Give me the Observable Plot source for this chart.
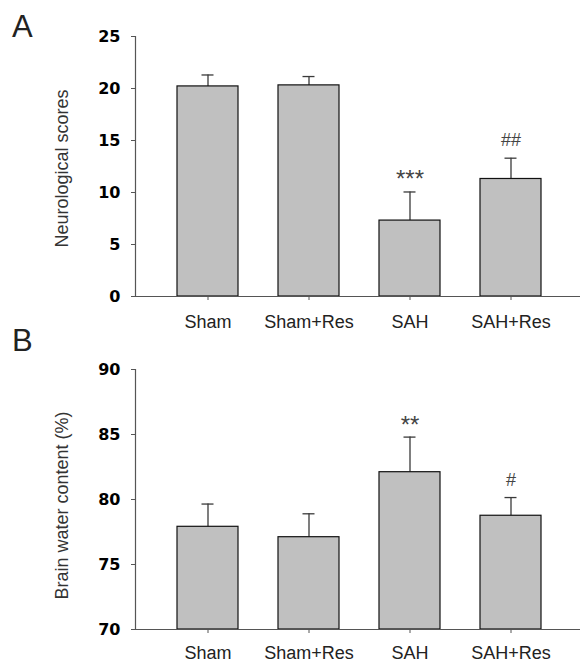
<!DOCTYPE html>
<html><head><meta charset="utf-8">
<script src="https://cdn.jsdelivr.net/npm/d3@7"></script>
<script src="https://cdn.jsdelivr.net/npm/@observablehq/plot@0.6"></script>
<style>
body{margin:0;background:#fff;}
#wrap{position:relative;width:580px;height:662px;font-family:"Liberation Sans",Arial,sans-serif;overflow:hidden;}
.letter{position:absolute;left:12px;font-size:31px;line-height:31px;color:#222;}
.panel{position:absolute;left:0;}
</style></head><body>
<div id="wrap">
<div class="panel" id="pa" style="top:0"></div>
<div class="panel" id="pb" style="top:335px"></div>
<div class="letter" style="top:11px">A</div>
<div class="letter" style="top:325px">B</div>
</div>
<script>
const groups = ["Sham", "Sham+Res", "SAH", "SAH+Res"];
const scoreMean = [20.2, 20.3, 7.3, 11.3];
const scoreErr = [1.1, 0.85, 2.75, 2.0];
const scoreMarks = ["", "", "***", "##"];
const scoreTicks = [0, 5, 10, 15, 20, 25];
const waterMean = [77.9, 77.1, 82.1, 78.75];
const waterErr = [1.75, 1.8, 2.7, 1.4];
const waterMarks = ["", "", "**", "#"];
const waterTicks = [70, 75, 80, 85, 90];

function panel({means, errs, marks, domain, ticks, label, height, mt, mb, labelDy, xPad}) {
  const rows = groups.map((g, i) => ({group: g, mean: means[i], top: means[i] + errs[i], mark: marks[i]}));
  const base = domain[0];
  return Plot.plot({
    width: 580, height, marginTop: mt, marginBottom: mb, marginLeft: 135, marginRight: 0,
    style: {fontFamily: "Liberation Sans, Arial, sans-serif", background: "white", overflow: "visible"},
    x: {domain: groups, paddingInner: 0.4, paddingOuter: 0.382, align: 0.52},
    y: {domain},
    marks: [
      Plot.ruleX(rows, {x: "group", y1: "mean", y2: "top", stroke: "#3a3a3a", strokeWidth: 1.3}),
      Plot.tickY(rows, {x: "group", y: "top", stroke: "#3a3a3a", strokeWidth: 1.3, insetLeft: 24.5, insetRight: 24.5}),
      Plot.barY(rows, {x: "group", y1: base, y2: "mean", fill: "#c0c0c0", stroke: "#111", strokeWidth: 1.2}),
      Plot.ruleY([base], {stroke: "#555", strokeWidth: 1.2}),
      Plot.frame({anchor: "left", stroke: "#555", strokeWidth: 1.2}),
      Plot.axisY({ticks, tickSize: 4, tickPadding: 11, fontSize: 16, fontWeight: "bold",
        fontFamily: "DejaVu Sans", color: "#000", stroke: "#555", label: null}),
      Plot.axisX({tickSize: 4, tickPadding: xPad, fontSize: 18, color: "#222", stroke: "#555", label: null}),
      Plot.text([label], {frameAnchor: "left", text: d => d, rotate: -90, dx: -73, dy: labelDy,
        textAnchor: "middle", lineAnchor: "middle", fontSize: 18, fill: "#333"}),
      Plot.text(rows.filter(d => d.mark.startsWith("*")), {x: "group", y: "top", text: "mark",
        lineAnchor: "bottom", dy: -4.5, fontSize: 24, fill: "#444"}),
      Plot.text(rows.filter(d => d.mark.startsWith("#")), {x: "group", y: "top", text: "mark",
        lineAnchor: "bottom", dy: -12, fontSize: 18, fill: "#444"})
    ]
  });
}

document.getElementById("pa").append(panel({
  means: scoreMean, errs: scoreErr, marks: scoreMarks, domain: [0, 25], ticks: scoreTicks,
  label: "Neurological scores", height: 335, mt: 36, mb: 39, labelDy: 2, xPad: 15
}));
document.getElementById("pb").append(panel({
  means: waterMean, errs: waterErr, marks: waterMarks, domain: [70, 90], ticks: waterTicks,
  label: "Brain water content (%)", height: 327, mt: 34, mb: 33, labelDy: 6, xPad: 13
}));
</script>
</body></html>
